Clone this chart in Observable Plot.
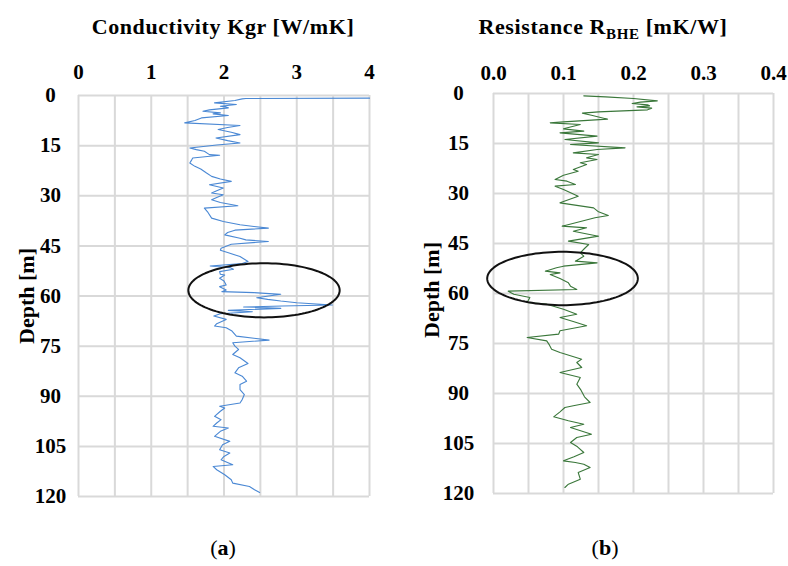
<!DOCTYPE html>
<html><head><meta charset="utf-8">
<script src="https://cdn.jsdelivr.net/npm/d3@7"></script>
<script src="https://cdn.jsdelivr.net/npm/@observablehq/plot@0.6"></script>
<style>
body{margin:0;background:#fff;}
#root{position:relative;width:788px;height:566px;overflow:hidden;font-family:"Liberation Serif",serif;color:#000;background:#fff;}
.t{position:absolute;white-space:nowrap;font-weight:bold;font-size:22px;transform:translate(-50%,-50%);line-height:1;}
.panel{position:absolute;top:0;}
sub{font-size:15px;vertical-align:-5px;line-height:0;}
</style></head><body><div id="root"></div>
<script>
// Thermal conductivity profile: [depth m, Kgr W/mK]
const kgrProfile = [[0.8,4.0],[0.9,2.3],[1.0,2.25],[1.5,2.15],[2.2,1.87],[2.7,2.17],[3.2,1.95],[3.4,2.02],[3.7,2.06],[4.3,1.80],[4.7,1.71],[5.2,1.95],[5.5,1.85],[6.0,2.06],[6.7,1.69],[7.5,1.60],[8.2,1.46],[9.0,2.22],[9.6,2.05],[10.2,1.92],[11.0,2.10],[11.7,2.22],[12.7,1.89],[13.5,2.05],[14.2,2.22],[14.8,1.90],[15.7,1.53],[16.2,1.62],[16.7,1.73],[17.7,1.80],[17.9,1.94],[18.7,1.57],[19.5,1.55],[20.2,1.53],[21.2,1.60],[22.0,1.68],[23.2,1.76],[24.2,1.83],[25.0,1.95],[25.7,2.10],[26.7,1.80],[27.7,1.99],[28.5,1.90],[29.2,1.83],[29.7,1.99],[30.5,1.90],[31.2,1.83],[32.0,1.95],[33.0,2.19],[33.7,1.73],[35.0,1.78],[36.7,1.83],[37.7,1.99],[38.7,2.22],[39.7,2.61],[40.3,2.15],[41.0,2.05],[41.7,2.01],[42.7,2.22],[43.2,2.30],[43.7,2.61],[44.5,2.10],[45.7,1.96],[46.3,1.95],[47.0,2.05],[48.2,2.22],[49.7,2.33],[50.3,2.25],[51.0,1.81],[51.5,2.08],[52.0,2.13],[52.7,1.94],[53.5,1.95],[53.7,2.01],[54.7,1.94],[55.5,2.00],[56.7,2.03],[57.2,1.94],[58.2,2.03],[58.7,1.97],[59.0,2.41],[59.5,2.78],[60.5,2.45],[61.0,2.60],[61.5,2.78],[62.0,3.00],[62.7,3.49],[63.0,2.80],[63.3,2.27],[63.7,2.78],[64.3,2.06],[64.7,2.39],[65.3,1.95],[66.0,1.86],[67.0,2.03],[68.3,1.90],[69.0,1.87],[69.5,2.03],[70.5,2.11],[72.0,2.17],[73.2,2.62],[74.0,2.12],[75.0,2.15],[76.0,2.20],[77.5,2.12],[78.5,2.22],[80.2,2.33],[81.5,2.20],[83.0,2.15],[84.0,2.25],[85.5,2.31],[86.5,2.22],[88.0,2.22],[89.5,2.28],[91.0,2.25],[92.0,2.22],[93.0,1.94],[93.5,2.01],[94.5,1.95],[96.0,1.87],[97.0,1.96],[98.0,1.90],[99.0,1.85],[99.5,2.06],[100.5,1.95],[102.0,1.87],[103.5,2.08],[104.5,1.98],[106.0,1.94],[107.0,2.08],[108.0,2.00],[109.0,1.96],[110.5,2.12],[111.0,1.85],[112.0,1.90],[113.5,2.01],[115.0,2.10],[116.0,2.12],[117.0,2.35],[118.0,2.42],[118.8,2.49]];

// Borehole resistance profile: [depth m, Rbhe mK/W]
const rbheProfile = [[0.7,0.129],[1.0,0.16],[1.5,0.20],[2.2,0.234],[2.6,0.21],[3.0,0.198],[3.4,0.22],[3.7,0.223],[4.0,0.205],[4.4,0.226],[4.9,0.22],[5.5,0.15],[5.9,0.127],[6.5,0.14],[7.7,0.163],[8.5,0.10],[8.8,0.081],[9.3,0.124],[10.6,0.10],[11.3,0.129],[11.8,0.095],[12.8,0.148],[13.8,0.102],[14.8,0.15],[15.3,0.11],[16.3,0.188],[16.8,0.148],[17.8,0.114],[18.3,0.15],[19.3,0.133],[19.8,0.148],[20.8,0.124],[21.3,0.133],[22.8,0.114],[23.3,0.121],[24.5,0.10],[25.8,0.088],[26.3,0.105],[27.3,0.117],[27.8,0.088],[28.8,0.10],[30.8,0.121],[32.8,0.095],[34.3,0.143],[35.5,0.150],[36.6,0.164],[37.3,0.145],[39.8,0.098],[40.3,0.133],[41.3,0.114],[42.8,0.15],[44.3,0.107],[45.3,0.136],[46.5,0.130],[47.8,0.124],[48.8,0.129],[50.3,0.117],[50.8,0.148],[51.8,0.10],[52.3,0.09],[53.3,0.074],[53.8,0.095],[54.3,0.081],[55.5,0.095],[56.8,0.107],[57.8,0.11],[58.8,0.119],[59.3,0.021],[60.2,0.029],[61.2,0.052],[62.7,0.048],[63.2,0.076],[64.7,0.10],[66.2,0.119],[67.2,0.095],[68.5,0.115],[69.7,0.133],[71.2,0.095],[72.2,0.093],[73.2,0.048],[74.2,0.076],[75.5,0.080],[76.7,0.083],[77.7,0.095],[79.7,0.126],[80.7,0.119],[82.2,0.126],[83.7,0.095],[85.2,0.124],[87.2,0.119],[89.0,0.125],[91.0,0.130],[92.7,0.138],[93.7,0.114],[94.2,0.102],[95.5,0.095],[97.0,0.086],[98.2,0.107],[99.2,0.129],[100.2,0.11],[102.2,0.14],[103.2,0.119],[104.7,0.11],[106.0,0.12],[107.7,0.129],[109.0,0.115],[110.2,0.10],[110.7,0.117],[111.2,0.129],[112.2,0.138],[113.7,0.121],[115.7,0.124],[117.2,0.107],[118.2,0.102]];

// Axis ticks
const depthTicks = [0,15,30,45,60,75,90,105,120];
const kgrTicks = [0,1,2,3,4];
const kgrGrid = [0,0.5,1,1.5,2,2.5,3,3.5,4];
const rbheTicks = [0,0.1,0.2,0.3,0.4];
const rbheGrid = [0,0.05,0.1,0.15,0.2,0.25,0.3,0.35,0.4];

// Highlight ellipses (centre and radii in data units)
const ellipseKgr = {cx:2.55, cy:58.3, rx:1.04, ry:8.1};
const ellipseRbhe = {cx:0.0986, cy:55.5, rx:0.1076, ry:8.0};

function ellipsePts(e){
  return d3.range(121).map(i => {const t = i/120*2*Math.PI; return {x:e.cx+e.rx*Math.cos(t), y:e.cy+e.ry*Math.sin(t)};});
}

const FONT = '"Liberation Serif", serif';
const gridStyle = {stroke:"#d9d9d9", strokeOpacity:1, strokeWidth:2};

function panel(opts){
  return Plot.plot({
    width:394, height:520,
    marginLeft:opts.ml, marginRight:opts.mr, marginTop:opts.mt, marginBottom:opts.mb,
    style:{fontFamily:FONT, fontSize:"21px", fontWeight:"bold", background:"transparent", color:"#000"},
    x:{domain:opts.xDomain, label:null},
    y:{domain:[0,120], reverse:true, label:null},
    marks:[
      Plot.gridX(opts.xGrid, gridStyle),
      Plot.gridY(depthTicks, gridStyle),
      Plot.line(opts.data, {x:d=>d[1], y:d=>d[0], stroke:opts.color, strokeWidth:1.1}),
      Plot.line(ellipsePts(opts.ellipse), {x:"x", y:"y", stroke:"#111", strokeWidth:2, curve:"linear-closed"}),
      Plot.axisX(opts.xTicks, {anchor:"top", tickSize:0, tickPadding:opts.xPad, label:null, tickFormat:opts.fmt}),
      Plot.axisY(depthTicks, {anchor:"left", tickSize:0, tickPadding:opts.yPad, textAnchor:"middle", label:null})
    ]
  });
}

const root = document.getElementById("root");
const left = panel({ml:78, mr:25, mt:95, mb:24, xDomain:[0,4], xGrid:kgrGrid, xTicks:kgrTicks, fmt:d=>String(d), data:kgrProfile, color:"#4a88d4", ellipse:ellipseKgr, xPad:17, yPad:28});
left.classList.add("panel"); left.style.left = "0px";
root.appendChild(left);
const right = panel({ml:99, mr:15, mt:93, mb:27, xDomain:[0,0.4], xGrid:rbheGrid, xTicks:rbheTicks, fmt:d=>d.toFixed(1), data:rbheProfile, color:"#3a773a", ellipse:ellipseRbhe, xPad:14, yPad:35});
right.classList.add("panel"); right.style.left = "394px";
root.appendChild(right);

function label(html, x, y, rot){
  const el = document.createElement("div");
  el.className = "t";
  el.innerHTML = html;
  el.style.left = x + "px"; el.style.top = y + "px";
  if (rot) el.style.transform = "translate(-50%,-50%) rotate(-90deg)";
  root.appendChild(el);
  return el;
}
const t1 = label("Conductivity Kgr [W/mK]", 223, 27);
t1.style.letterSpacing = "0.6px";
const t2 = label("Resistance R<sub>BHE</sub> [mK/W]", 603, 27);
t2.style.letterSpacing = "0.6px";
label("Depth [m]", 27, 296, true);
label("Depth [m]", 432, 290, true);
const c1 = label('<span style="font-weight:normal">(</span>a<span style="font-weight:normal">)</span>', 223, 548);
const c2 = label('<span style="font-weight:normal">(</span>b<span style="font-weight:normal">)</span>', 605, 548);
</script>
</body></html>
